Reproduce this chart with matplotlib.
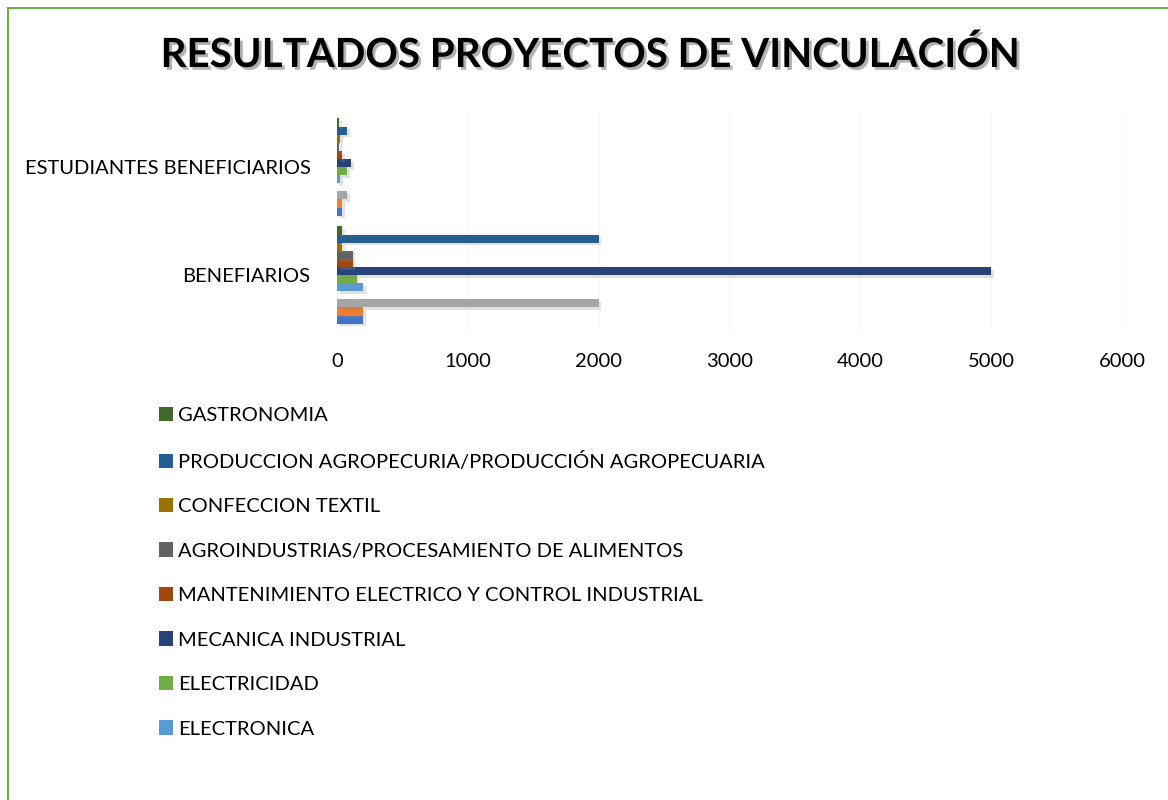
import numpy as np
import matplotlib
matplotlib.use("Agg")
import matplotlib.pyplot as plt
import matplotlib.patheffects as pe
from matplotlib.patches import Rectangle, Patch

plt.rcParams['font.family'] = ['Lato', 'DejaVu Sans']

# categories, bottom to top
categories = ['BENEFIARIOS', 'ESTUDIANTES BENEFICIARIOS']

# series in drawing order (first one at the bottom of each group)
series_names = ['Serie 1', 'Serie 2', 'Serie 3', 'Serie 4',
                'ELECTRONICA', 'ELECTRICIDAD', 'MECANICA INDUSTRIAL',
                'MANTENIMIENTO ELECTRICO Y CONTROL INDUSTRIAL',
                'AGROINDUSTRIAS/PROCESAMIENTO DE ALIMENTOS',
                'CONFECCION TEXTIL',
                'PRODUCCION AGROPECURIA/PRODUCCIÓN AGROPECUARIA',
                'GASTRONOMIA']
benefiarios = [200, 200, 2000, 0, 200, 150, 5000, 120, 120, 40, 2000, 40]
estudiantes = [40, 40, 75, 0, 25, 75, 105, 40, 15, 25, 75, 15]
colors = ['#4472C4', '#ED7D31', '#A5A5A5', '#FFC000', '#5B9BD5', '#70AD47',
          '#264478', '#9E480E', '#636363', '#997300', '#255E91', '#43682B']
legend_series = series_names[4:][::-1]

W, H = 1168, 800
fig = plt.figure(figsize=(W / 100, H / 100), dpi=100)

# green frame
fig.patches.append(Rectangle((8 / W, -0.05), 1.2, 1 - 8 / H + 0.05,
                             transform=fig.transFigure, fill=False,
                             edgecolor='#70AD47', linewidth=1.5))

ax = fig.add_axes([337 / W, 1 - 329 / H, (1122 - 337) / W, (329 - 113) / H])

n = len(series_names)
group = 0.9
h = group / n
y = np.arange(len(categories))
shadow = [pe.SimplePatchShadow(offset=(2, -2), alpha=0.25, shadow_rgbFace='#888888'), pe.Normal()]
for i, name in enumerate(series_names):
    vals = [benefiarios[i], estudiantes[i]]
    ax.barh(y - group / 2 + h * (i + 0.5), vals, height=h, color=colors[i],
            label=name, path_effects=shadow, zorder=3)

ax.set_xlim(0, 6000)
ax.set_ylim(-0.5, 1.5)
ax.set_xticks(np.arange(0, 6001, 1000))
ax.set_yticks(y)
ax.set_yticklabels(categories)
ax.tick_params(axis='both', length=0, labelsize=14.5, colors='#000000')
ax.tick_params(axis='x', pad=17)
ax.tick_params(axis='y', pad=19)
for s in ax.spines.values():
    s.set_visible(False)
ax.grid(axis='x', color='#f9f9f9', linewidth=1.5, zorder=0)

fig.text(0.505, 1 - 55 / H, 'RESULTADOS PROYECTOS DE VINCULACIÓN',
         ha='center', va='center', fontsize=29, fontweight='bold',
         path_effects=[pe.withSimplePatchShadow(offset=(2, -2), alpha=0.3)])

handles = [Patch(facecolor=colors[series_names.index(nm)]) for nm in legend_series]
fig.legend(handles, legend_series, loc='upper left',
           bbox_to_anchor=(141 / W, 1 - 389 / H), frameon=False,
           fontsize=14.5, handlelength=0.7, handleheight=0.7,
           handletextpad=0.25, labelspacing=1.36)

fig.savefig('out.png', dpi=100)
